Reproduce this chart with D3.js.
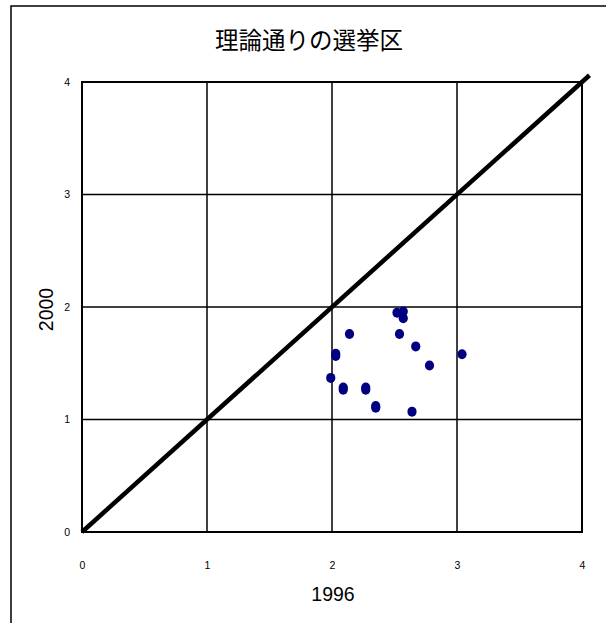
<!DOCTYPE html>
<html><head><meta charset="utf-8">
<script src="https://cdn.jsdelivr.net/npm/d3@7/dist/d3.min.js"></script>
<style>body{margin:0;background:#fff;}svg{display:block;}</style>
</head><body>
<script>
const title = "理論通りの選挙区";
const xLabel = "1996";
const yLabel = "2000";
const tickValues = [0, 1, 2, 3, 4];
const x1996 = [2.52, 2.57, 2.57, 2.14, 2.54, 2.67, 3.04, 2.03, 2.03, 2.78, 1.99, 2.09, 2.09, 2.27, 2.27, 2.35, 2.35, 2.64];
const y2000 = [1.95, 1.96, 1.90, 1.76, 1.76, 1.65, 1.58, 1.585, 1.565, 1.48, 1.37, 1.285, 1.265, 1.285, 1.265, 1.12, 1.105, 1.07];
const diagonal = [0, 4.06];

(function () {
const W = 606, H = 623;
const svg = d3.select("body").append("svg").attr("width", W).attr("height", H);
const pLeft = 82, pRight = 582, pTop = 82, pBottom = 532;
const x = d3.scaleLinear().domain([0, 4]).range([pLeft, pRight]);
const y = d3.scaleLinear().domain([0, 4]).range([pBottom, pTop]);

// outer frame
svg.append("rect").attr("x", 11).attr("y", 6).attr("width", 620).attr("height", 640)
  .attr("fill", "none").attr("stroke", "#000").attr("stroke-width", 1.5);

// title
svg.append("text").attr("x", 309).attr("y", 49).attr("text-anchor", "middle")
  .attr("font-family", "'Noto Sans CJK JP', sans-serif").attr("font-size", 23.5).text(title);

// grid
const g = svg.append("g");
g.selectAll("line.v").data(tickValues).enter().append("line")
  .attr("x1", d => x(d)).attr("x2", d => x(d)).attr("y1", y(0)).attr("y2", y(4))
  .attr("stroke", "#000").attr("stroke-width", 1.5);
g.selectAll("line.h").data(tickValues).enter().append("line")
  .attr("y1", d => y(d)).attr("y2", d => y(d)).attr("x1", x(0)).attr("x2", x(4))
  .attr("stroke", "#000").attr("stroke-width", 1.5);
g.append("rect").attr("x", x(0)).attr("y", y(4)).attr("width", x(4) - x(0)).attr("height", y(0) - y(4))
  .attr("fill", "none").attr("stroke", "#000").attr("stroke-width", 2);

// axes labels via d3 axes
const xAxis = d3.axisBottom(x).tickValues(tickValues).tickFormat(d3.format("d")).tickSize(0).tickPadding(0);
const yAxis = d3.axisLeft(y).tickValues(tickValues).tickFormat(d3.format("d")).tickSize(0).tickPadding(0);
const gx = svg.append("g").attr("transform", `translate(0,${pBottom + 30})`).call(xAxis);
const gy = svg.append("g").attr("transform", `translate(${pLeft - 12},0)`).call(yAxis);
[gx, gy].forEach(a => {
  a.select(".domain").remove();
  a.selectAll("text").attr("font-family", "'Liberation Sans', Arial, sans-serif").attr("font-size", 10.5).attr("fill", "#000");
});
gx.selectAll("text").attr("dy", "0.71em").attr("y", 0);
gy.selectAll("text").attr("dy", "0.32em").attr("x", 0);

svg.append("text").attr("x", 333).attr("y", 601).attr("text-anchor", "middle")
  .attr("font-family", "'Liberation Sans', Arial, sans-serif").attr("font-size", 19.5).text(xLabel);
svg.append("text").attr("transform", "translate(53,309.5) rotate(-90)").attr("text-anchor", "middle")
  .attr("font-family", "'Liberation Sans', Arial, sans-serif").attr("font-size", 19.5).text(yLabel);

// diagonal line
svg.append("line").attr("x1", x(diagonal[0])).attr("y1", y(diagonal[0]))
  .attr("x2", x(diagonal[1])).attr("y2", y(diagonal[1]))
  .attr("stroke", "#000").attr("stroke-width", 4.5).attr("stroke-linecap", "butt");

// points
svg.selectAll("ellipse.pt").data(x1996.map((v, i) => [v, y2000[i]])).enter().append("ellipse")
  .attr("cx", d => x(d[0])).attr("cy", d => y(d[1])).attr("rx", 4.6).attr("ry", 5)
  .attr("fill", "#000080");
})();
</script>
</body></html>
